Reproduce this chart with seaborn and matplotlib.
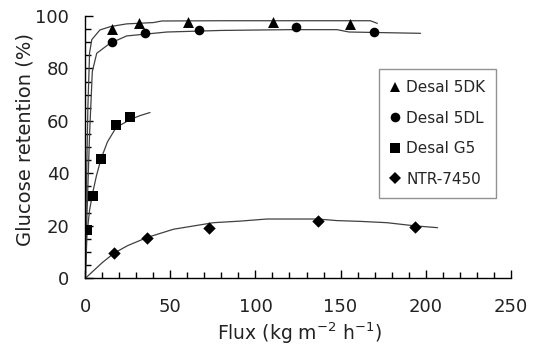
import matplotlib
matplotlib.use("Agg")
import matplotlib.pyplot as plt
from matplotlib.ticker import MultipleLocator
import seaborn as sns
import pandas as pd

sns.set_theme(style="ticks")
plt.rcParams["font.family"] = ["DejaVu Sans"]

# Measured retention points per membrane
dk_flux = [15.9, 31.8, 60.6, 110.2, 155.3]
dk_ret = [95.2, 97.2, 97.7, 97.8, 96.8]
dl_flux = [15.7, 35.1, 66.9, 123.8, 169.4]
dl_ret = [90.0, 93.6, 94.7, 95.7, 93.8]
g5_flux = [1.0, 4.3, 9.2, 18.1, 26.3]
g5_ret = [18.4, 31.4, 45.4, 58.3, 61.4]
ntr_flux = [16.9, 36.5, 72.6, 136.5, 193.5]
ntr_ret = [9.8, 15.5, 19.3, 22.0, 19.4]

# Trend curves through each data set
dk_fit_x = [0, 0.5, 1.5, 2.5, 3.8, 8.6, 15, 24.3, 40, 45, 80, 120, 167.5, 171.6]
dk_fit_y = [0, 30, 65, 86, 91.0, 94.7, 96.0, 97.0, 97.5, 98.1, 98.2, 98.2, 98.2, 97.2]
dl_fit_x = [0, 1, 2.5, 4.1, 6.7, 14.5, 24.3, 48, 80, 120, 147.9, 155, 197]
dl_fit_y = [0, 25, 55, 78.8, 85.8, 89.6, 92.4, 93.9, 94.5, 94.8, 94.8, 93.9, 93.4]
g5_fit_x = [0, 1, 2.5, 4.3, 6.5, 9.2, 13, 18.1, 26.3, 32, 38]
g5_fit_y = [0, 17, 26, 32.5, 39, 45.5, 52, 57.5, 60.5, 62.0, 63.2]
ntr_fit_x = [0, 10, 16.9, 25, 36.5, 51.8, 75.3, 91, 106.7, 136.5, 147.9, 161.6, 177.3, 193.5, 207]
ntr_fit_y = [0, 6.0, 9.6, 12.5, 15.6, 18.7, 21.2, 21.8, 22.6, 22.6, 22.0, 21.7, 21.2, 20.0, 19.3]

labels = ["Desal 5DK", "Desal 5DL", "Desal G5", "NTR-7450"]
markers = ["^", "o", "s", "D"]
sizes = [62, 48, 48, 40]

points = [(dk_flux, dk_ret), (dl_flux, dl_ret), (g5_flux, g5_ret), (ntr_flux, ntr_ret)]
fits = [(dk_fit_x, dk_fit_y), (dl_fit_x, dl_fit_y), (g5_fit_x, g5_fit_y), (ntr_fit_x, ntr_fit_y)]

fig = plt.figure(figsize=(5.38, 3.48), dpi=100)
ax = fig.add_axes([0.1586, 0.2003, 0.7906, 0.7537])

for (fx, fy) in fits:
    df = pd.DataFrame({"x": fx, "y": fy})
    sns.lineplot(data=df, x="x", y="y", sort=False, estimator=None,
                 color="#404040", linewidth=0.9, ax=ax)

handles = []
for (px, py), lab, m, s in zip(points, labels, markers, sizes):
    df = pd.DataFrame({"x": px, "y": py})
    sns.scatterplot(data=df, x="x", y="y", marker=m, s=s, color="black",
                    edgecolor="black", linewidth=0, ax=ax, zorder=3)
    handles.append(plt.Line2D([], [], linestyle="none", marker=m, color="black",
                              markeredgewidth=0, markersize=s ** 0.5, label=lab))

ax.set_xlim(0, 250)
ax.set_ylim(0, 100)
ax.xaxis.set_major_locator(MultipleLocator(50))
ax.xaxis.set_minor_locator(MultipleLocator(10))
ax.yaxis.set_major_locator(MultipleLocator(20))
ax.yaxis.set_minor_locator(MultipleLocator(5))
ax.tick_params(which="both", direction="in", color="black", width=1.0, labelsize=13,
               labelcolor="#222222")
ax.tick_params(which="major", length=6)
ax.tick_params(which="minor", length=4)
ax.tick_params(axis="y", which="major", pad=11.5)
ax.tick_params(axis="x", which="major", pad=14)
for side in ["top", "right"]:
    ax.spines[side].set_visible(False)
for side in ["left", "bottom"]:
    ax.spines[side].set_color("black")
    ax.spines[side].set_linewidth(1.0)

ax.set_xlabel("Flux (kg m$^{-2}$ h$^{-1}$)", fontsize=13.5, color="#222222")
ax.set_ylabel("Glucose retention (%)", fontsize=14, color="#222222")
ax.xaxis.set_label_coords(0.503, -0.16)
ax.yaxis.set_label_coords(-0.12, 0.531)

leg = ax.legend(handles=handles, loc="upper left", bbox_to_anchor=(0.691, 0.798),
                frameon=True, fancybox=False, fontsize=11, handlelength=0.6,
                handletextpad=0.45, labelspacing=1.02, borderpad=0.72, borderaxespad=0)
leg.get_frame().set_edgecolor("#777777")
leg.get_frame().set_linewidth(1.0)

fig.savefig("out.png", dpi=100)
